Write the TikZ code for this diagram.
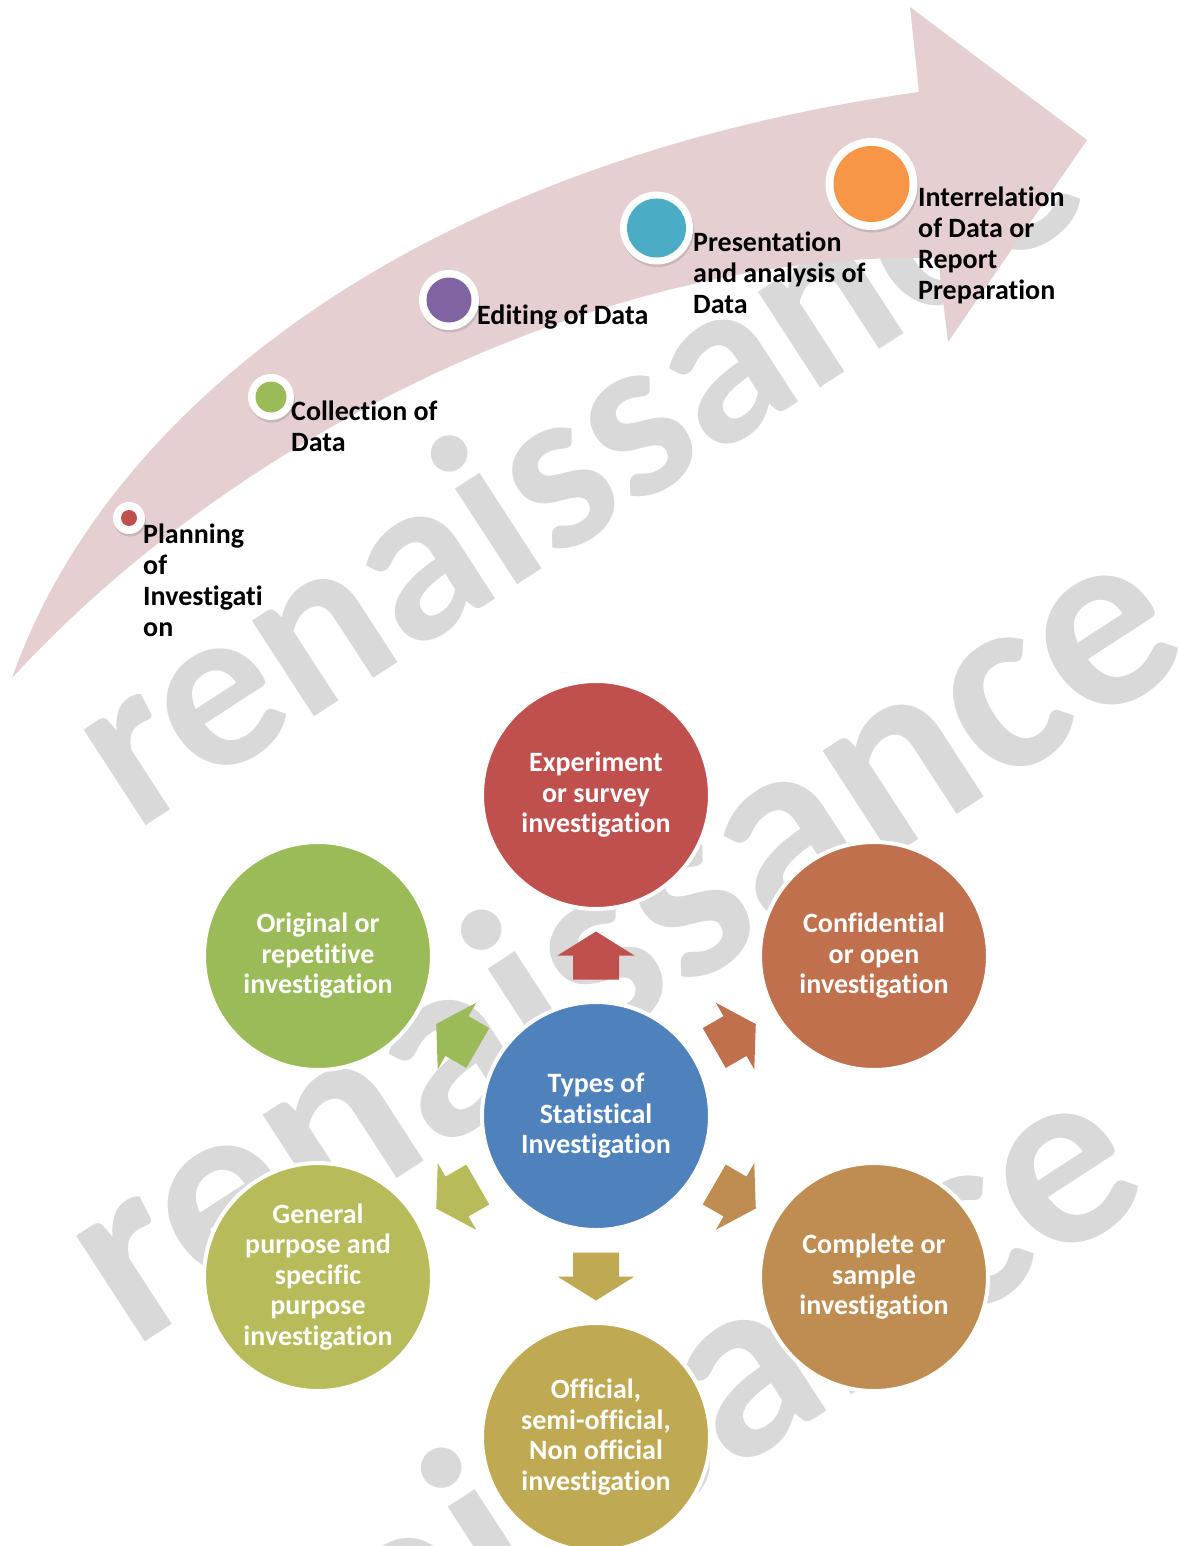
\documentclass[tikz,border=0pt]{standalone}
\usepackage{fontspec}
\setmainfont{Carlito}[Ligatures=NoCommon]
\usetikzlibrary{calc,shadows}
\definecolor{arrowpink}{HTML}{E6CFD0}
\definecolor{wmgray}{HTML}{D9D9D9}
\definecolor{cRed}{HTML}{C0504D}
\definecolor{cGreen}{HTML}{9BBB59}
\definecolor{cPurple}{HTML}{8064A2}
\definecolor{cTeal}{HTML}{4BACC6}
\definecolor{cOrange}{HTML}{F79646}
\definecolor{cCenter}{HTML}{4F81BD}
\definecolor{cConf}{HTML}{C0704D}
\definecolor{cComp}{HTML}{BF8D52}
\definecolor{cOff}{HTML}{BFA953}
\definecolor{cGen}{HTML}{B7BB59}
\definecolor{cOrig}{HTML}{9BBB59}
\begin{document}
\begin{tikzpicture}[x=1pt,y=-1pt,
  wm/.style={text=wmgray, inner sep=0, anchor=base, rotate=33,
    font=\fontsize{260}{260}\selectfont\bfseries},
  ring/.style={circle, fill=white, inner sep=0,
    drop shadow={opacity=0.3, shadow xshift=1pt, shadow yshift=-2.5pt}},
  dotc/.style={circle, inner sep=0},
  lbl/.style={inner sep=0, align=left, anchor=base west, text=black,
    font=\fontsize{28}{31}\selectfont\bfseries},
  bigc/.style={circle, draw=white, line width=4pt, minimum size=228pt,
    inner sep=0, align=center, text=white,
    font=\fontsize{28}{30.5}\selectfont\bfseries}
]
\useasboundingbox (0,0) rectangle (1178,1546);
\fill[white] (0,0) rectangle (1178,1546);

% watermarks
\node[wm, font=\fontsize{235}{235}\selectfont\bfseries] (wmA) at (616,521) {renaissance};
\node[wm] (wmB) at (665,1004) {renaissance};
\node[wm] (wmC) at (625,1542) {renaissance};

% curved process arrow
\fill[arrowpink] (12,678) .. controls (110,400) and (430,160) .. (919,92)
  -- (910,7) -- (1087,140) -- (948,342) -- (938,258)
  .. controls (600,250) and (230,440) .. (12,678) -- cycle;

% milestones
\node[ring, minimum size=32pt] (r1) at (129,518) {};
\node[dotc, fill=cRed, minimum size=16pt] (d1) at (r1.center) {};
\node[ring, minimum size=46pt] (r2) at (271,397) {};
\node[dotc, fill=cGreen, minimum size=31pt] (d2) at (r2.center) {};
\node[ring, minimum size=60pt] (r3) at (449,300) {};
\node[dotc, fill=cPurple, minimum size=45pt] (d3) at (r3.center) {};
\node[ring, minimum size=73pt] (r4) at (656.5,228) {};
\node[dotc, fill=cTeal, minimum size=59pt] (d4) at (r4.center) {};
\node[ring, minimum size=92pt] (r5) at (871.5,184) {};
\node[dotc, fill=cOrange, minimum size=76pt] (d5) at (r5.center) {};

\node[lbl] (t1) at (143,636) {Planning\\of\\Investigati\\on};
\node[lbl] (t2) at (291,451) {Collection of\\Data};
\node[lbl] (t3) at (477,324) {Editing of Data};
\node[lbl] (t4) at (693,313) {Presentation\\and analysis of\\Data};
\node[lbl] (t5) at (918,299) {Interrelation\\of Data or\\Report\\Preparation};

% types of statistical investigation
\node[bigc, fill=cCenter] (ctr) at (596,1116) {Types of\\Statistical\\Investigation};
\node[bigc, fill=cRed] (exp) at (596,795) {Experiment\\or survey\\investigation};
\node[bigc, fill=cConf] (conf) at (874,956) {Confidential\\or open\\investigation};
\node[bigc, fill=cComp] (comp) at (874,1277) {Complete or\\sample\\investigation};
\node[bigc, fill=cOff] (off) at (596,1437) {Official,\\semi-official,\\Non official\\investigation};
\node[bigc, fill=cGen] (gen) at (318,1277) {General\\purpose and\\specific\\purpose\\investigation};
\node[bigc, fill=cOrig] (orig) at (318,956) {Original or\\repetitive\\investigation};

\foreach \tgt/\ang/\col in {exp/90/cRed, conf/30/cConf, comp/-30/cComp,
    off/-90/cOff, gen/210/cGen, orig/150/cOrig}{
  \fill[\col, shift={($(ctr)!0.5!(\tgt)$)}, rotate=\ang]
    (-24,-23) -- (0,-23) -- (0,-38.5) -- (24,0) -- (0,38.5) -- (0,23)
    -- (-24,23) -- cycle;
}
\end{tikzpicture}
\end{document}
